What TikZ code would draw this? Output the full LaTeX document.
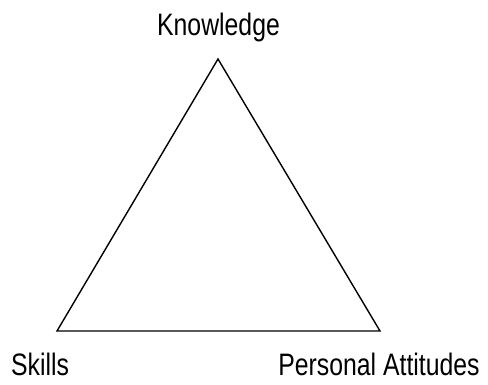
\documentclass[tikz,border=0pt]{standalone}
\usepackage{fontspec}
\setmainfont[FakeStretch=0.8]{Liberation Sans}
\begin{document}
\begin{tikzpicture}[x=1pt,y=-1pt,
  lbl/.style={inner sep=0pt,font=\fontsize{31}{36}\selectfont},
  edge/.style={draw=black,line width=1.4pt,line join=miter}]
\useasboundingbox (0,0) rectangle (488,385);
\coordinate (top) at (218,59);
\coordinate (bl) at (57,331);
\coordinate (br) at (380,331);
\draw[edge] (top) -- (bl) -- (br) -- cycle;
\node[lbl,anchor=base] (know) at (218.5,36) {Knowledge};
\node[lbl,anchor=base west] (skills) at (11,375) {Skills};
\node[lbl,anchor=base] (pers) at (379,375) {Personal Attitudes};
\end{tikzpicture}
\end{document}
